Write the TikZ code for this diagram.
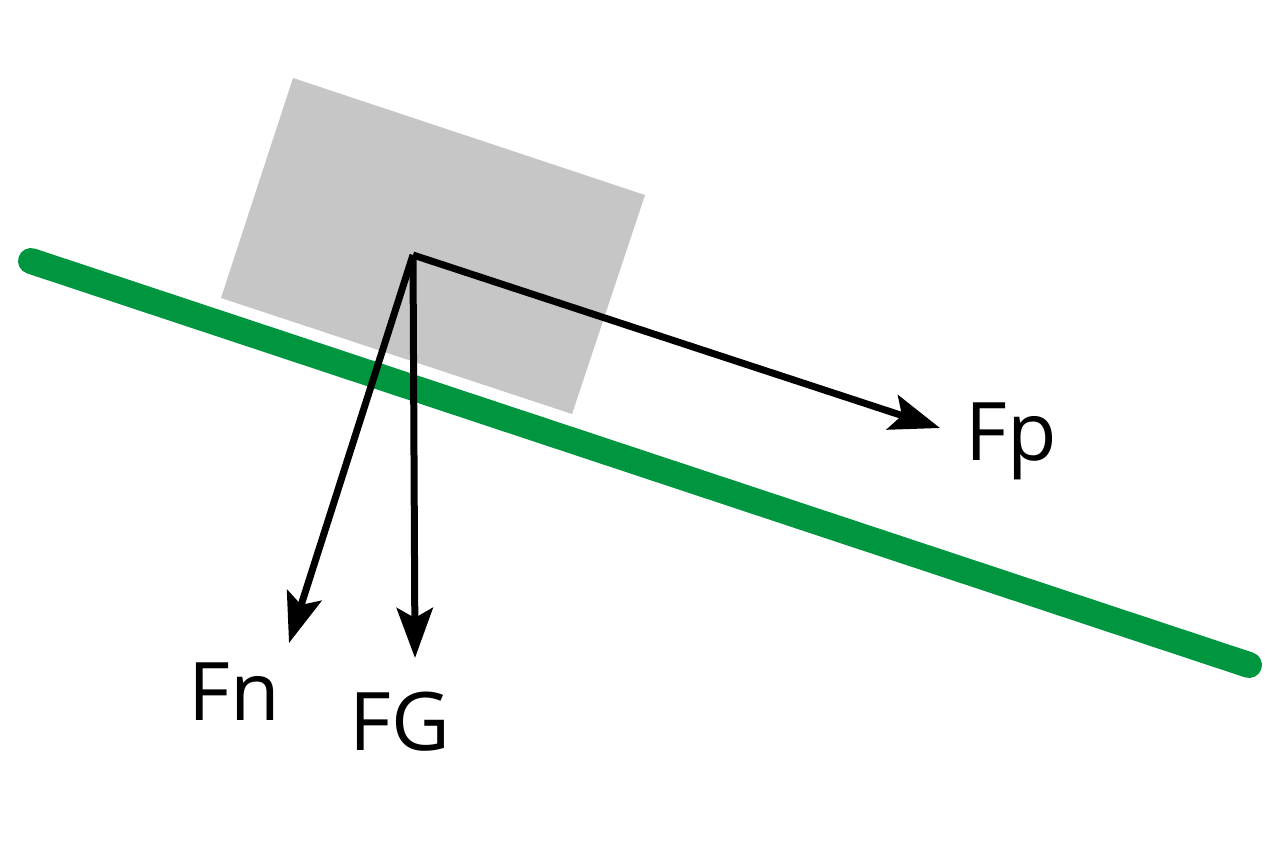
\documentclass[tikz,border=0pt]{standalone}
\usepackage{fontspec}
\setmainfont{Open Sans}
\usetikzlibrary{arrows.meta}
\definecolor{slope}{HTML}{009640}
\definecolor{blockgray}{HTML}{C6C6C6}
\tikzset{
  force/.style={line width=0.14cm, draw=black, -{Stealth[length=1.0cm,width=0.72cm,inset=0.2cm]}},
  flabel/.style={anchor=base west, inner sep=0pt, font=\fontsize{46}{50}\selectfont}
}
\begin{document}
\begin{tikzpicture}[x=0.02cm,y=-0.02cm]
\useasboundingbox (0,0) rectangle (1280,851);
% incline
\coordinate (sL) at (31,261);
\coordinate (sR) at (1249,665);
\draw[slope, line width=0.52cm, line cap=round] (sL) -- (sR);
% block
\fill[blockgray] (293,78) -- (645,195) -- (572,414) -- (221,298) -- cycle;
% forces
\coordinate (O) at (413,255);
\coordinate (tP) at (940,428);
\coordinate (tG) at (415,658);
\coordinate (tN) at (289,643);
\draw[force] (O) -- (tP);
\draw[force] (O) -- (tG);
\draw[force] (O) -- (tN);
% labels
\node[flabel] (lP) at (965,460) {Fp};
\node[flabel] (lN) at (188,720) {Fn};
\node[flabel] (lG) at (349,750) {FG};
\end{tikzpicture}
\end{document}
